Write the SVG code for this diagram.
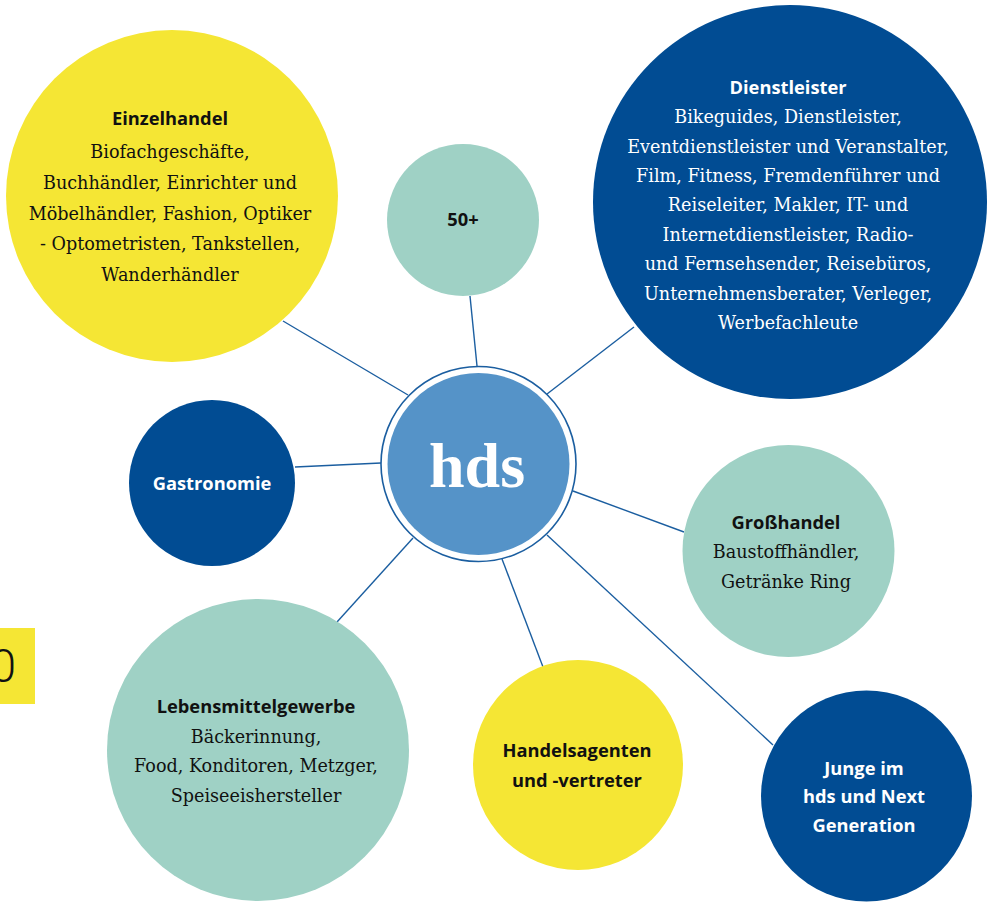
<svg xmlns="http://www.w3.org/2000/svg" width="993" height="904" viewBox="0 0 993 904">
<style>
.yellow{fill:#f5e634}
.dark{fill:#014c93}
.teal{fill:#9fd1c5}
.t{font-family:"Open Sans",Roboto,"Liberation Sans",sans-serif;font-weight:bold;font-size:18.3px;text-anchor:middle}
.b{font-family:"DejaVu Serif","Liberation Serif",serif;font-size:17.6px;text-anchor:middle}
.k{fill:#111}
.w{fill:#fff}
.con line{stroke:#1b5ea0;stroke-width:1.4}
</style>
<rect width="993" height="904" fill="#fff"/>
<g id="edge-box">
<rect x="0" y="628" width="35" height="76" class="yellow"/>
<text x="16" y="682" font-family="Roboto,'Liberation Sans',sans-serif" font-size="46" font-weight="300" text-anchor="end" fill="#111">0</text>
</g>
<g id="connectors" class="con">
<line x1="283" y1="321" x2="408" y2="395"/>
<line x1="470" y1="296" x2="477" y2="366"/>
<line x1="634" y1="327" x2="547" y2="394"/>
<line x1="295" y1="467" x2="381" y2="463"/>
<line x1="573" y1="491" x2="684" y2="532"/>
<line x1="547" y1="535" x2="773" y2="745"/>
<line x1="502" y1="559" x2="543" y2="667"/>
<line x1="413" y1="538" x2="337" y2="622"/>
</g>
<g id="einzelhandel">
<circle cx="172" cy="196" r="166" class="yellow"/>
<text class="t k" x="170" y="125">Einzelhandel</text>
<text class="b k"><tspan x="170" y="158">Biofachgeschäfte,</tspan><tspan x="170" y="189">Buchhändler, Einrichter und</tspan><tspan x="170" y="220">Möbelhändler, Fashion, Optiker</tspan><tspan x="170" y="250">- Optometristen, Tankstellen,</tspan><tspan x="170" y="281">Wanderhändler</tspan></text>
</g>
<g id="fifty">
<circle cx="463" cy="220" r="76" class="teal"/>
<text class="t k" x="463" y="226">50+</text>
</g>
<g id="dienstleister">
<circle cx="790" cy="202" r="197" class="dark"/>
<text class="t w" x="788" y="94">Dienstleister</text>
<text class="b w"><tspan x="788" y="123">Bikeguides, Dienstleister,</tspan><tspan x="788" y="153">Eventdienstleister und Veranstalter,</tspan><tspan x="788" y="182">Film, Fitness, Fremdenführer und</tspan><tspan x="788" y="211">Reiseleiter, Makler, IT- und</tspan><tspan x="788" y="241">Internetdienstleister, Radio-</tspan><tspan x="788" y="270">und Fernsehsender, Reisebüros,</tspan><tspan x="788" y="300">Unternehmensberater, Verleger,</tspan><tspan x="788" y="329">Werbefachleute</tspan></text>
</g>
<g id="gastronomie">
<circle cx="212" cy="483" r="83" class="dark"/>
<text class="t w" x="212" y="490">Gastronomie</text>
</g>
<g id="hds">
<circle cx="478.5" cy="464" r="97.5" fill="#fff" stroke="#1b5ea0" stroke-width="1.6"/>
<circle cx="478.5" cy="464" r="91" fill="#5593c8"/>
<text x="477" y="487" font-family="'Liberation Serif','DejaVu Serif',serif" font-size="64" font-weight="bold" text-anchor="middle" fill="#fff">hds</text>
</g>
<g id="grosshandel">
<circle cx="788.5" cy="551" r="106" class="teal"/>
<text class="t k" x="786" y="529">Großhandel</text>
<text class="b k"><tspan x="786" y="558">Baustoffhändler,</tspan><tspan x="786" y="588">Getränke Ring</tspan></text>
</g>
<g id="lebensmittel">
<circle cx="258" cy="750" r="151" class="teal"/>
<text class="t k" x="256" y="713">Lebensmittelgewerbe</text>
<text class="b k"><tspan x="256" y="743">Bäckerinnung,</tspan><tspan x="256" y="772">Food, Konditoren, Metzger,</tspan><tspan x="256" y="802">Speiseeishersteller</tspan></text>
</g>
<g id="handelsagenten">
<circle cx="578" cy="765" r="105" class="yellow"/>
<text class="t k"><tspan x="577" y="757">Handelsagenten</tspan><tspan x="577" y="787">und -vertreter</tspan></text>
</g>
<g id="junge">
<circle cx="866.5" cy="796" r="105.5" class="dark"/>
<text class="t w"><tspan x="864" y="775">Junge im</tspan><tspan x="864" y="803">hds und Next</tspan><tspan x="864" y="832">Generation</tspan></text>
</g>
</svg>
